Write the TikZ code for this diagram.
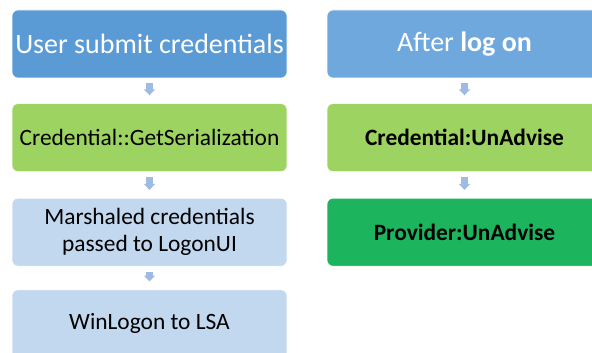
\documentclass[tikz,border=0pt]{standalone}
\usepackage{fontspec}
\setmainfont{Carlito}
\usepackage{xcolor}
\usetikzlibrary{arrows.meta,positioning,calc}
\definecolor{headblue}{RGB}{91,155,213}
\definecolor{headblueb}{RGB}{111,168,220}
\definecolor{stepgreen}{RGB}{157,211,96}
\definecolor{darkgreen}{RGB}{29,180,94}
\definecolor{paleblue}{RGB}{194,216,239}
\definecolor{arrowblue}{RGB}{157,187,227}
\tikzset{
  % 基础盒子
  box/.style={
    draw=white,
    line width=0.6pt,
    rounded corners=6pt,
    minimum width=275pt,
    minimum height=68pt,
    align=center,
    inner sep=0pt,
    font=\fontsize{23.4}{26.7}\selectfont
  },
  % 标题盒子
  head/.style={box, text=white, font=\fontsize{28}{32}\selectfont},
  % 箭头样式
  arr/.style={
    draw=arrowblue,
    line width=7pt,
    -{Triangle[length=6pt, width=11pt]},
    shorten <=5pt, shorten >=8pt
  }
}
\begin{document}
\begin{tikzpicture}[x=1pt, y=1pt, node distance=25pt]
  \clip (0,0) rectangle (592,-353);

  % 左列:登录流程
  \node[head, fill=headblue] (user) at (149.5,-44) {User submit credentials};
  \node[box, fill=stepgreen, below=of user] (getser) {Credential::GetSerialization};
  \node[box, fill=paleblue, below=26pt of getser] (marsh) {Marshaled credentials\\passed to LogonUI};
  \node[box, fill=paleblue, below=23pt of marsh] (winlogon) {WinLogon to LSA};

  % 右列:登录之后
  \node[head, fill=headblueb] (after) at (464.5,-44) {After \textbf{log on}};
  \node[box, fill=stepgreen, below=of after, font=\fontsize{23.4}{26.7}\selectfont\bfseries] (credun) {Credential:UnAdvise};
  \node[box, fill=darkgreen, below=26pt of credun, font=\fontsize{23.4}{26.7}\selectfont\bfseries] (provun) {Provider:UnAdvise};

  % 箭头
  \draw[arr] (user) -- (getser);
  \draw[arr] (getser) -- (marsh);
  \draw[arr] (marsh) -- (winlogon);
  \draw[arr] (after) -- (credun);
  \draw[arr] (credun) -- (provun);
\end{tikzpicture}
\end{document}
